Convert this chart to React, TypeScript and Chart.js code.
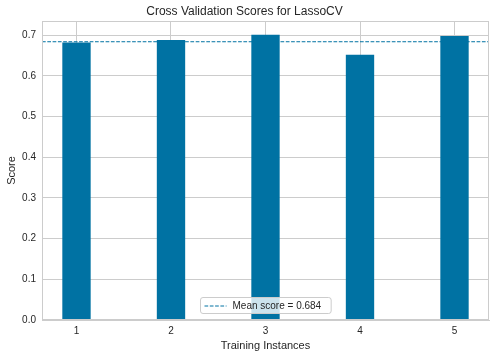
import React, { useEffect, useRef } from "react";
import { Chart, registerables } from "chart.js";

Chart.register(...registerables);

const TITLE = "Cross Validation Scores for LassoCV";
const X_LABEL = "Training Instances";
const Y_LABEL = "Score";
const FOLDS = [1, 2, 3, 4, 5];
const SCORES = [0.682, 0.688, 0.701, 0.652, 0.698];
const MEAN_SCORE = 0.684;
const LEGEND_LABEL = "Mean score = 0.684";
const X_TICKS = [1, 2, 3, 4, 5];
const Y_TICKS = [0, 0.1, 0.2, 0.3, 0.4, 0.5, 0.6, 0.7];
const X_MIN = 0.635;
const X_MAX = 5.365;
const Y_MIN = 0;
const Y_MAX = 0.735;

const BAR_COLOR = "#0072A3";
const GRID = "#cccccc";
const TEXT = "#262626";
const FONT = "'Liberation Sans', Arial, sans-serif";

const framePlugin = {
  id: "frame",
  afterDatasetsDraw(chart: any) {
    const { ctx, chartArea } = chart;
    ctx.save();
    ctx.strokeStyle = GRID;
    ctx.lineWidth = 1;
    ctx.strokeRect(
      Math.round(chartArea.left) + 0.5,
      Math.round(chartArea.top) + 0.5,
      Math.round(chartArea.right - chartArea.left) - 1,
      Math.round(chartArea.bottom - chartArea.top) - 1
    );
    ctx.restore();
  },
  afterDraw(chart: any) {
    const { ctx, chartArea } = chart;
    ctx.save();
    ctx.font = `10px ${FONT}`;
    const textW = ctx.measureText(LEGEND_LABEL).width;
    const boxW = 8 + 22 + 7 + textW + 5;
    const boxH = 16;
    const cx = (chartArea.left + chartArea.right) / 2;
    const x = Math.round(cx - boxW / 2) + 0.5;
    const y = Math.round(chartArea.bottom - 7 - boxH) + 0.5;
    const r = 2.5;
    ctx.beginPath();
    ctx.moveTo(x + r, y);
    ctx.lineTo(x + boxW - r, y);
    ctx.quadraticCurveTo(x + boxW, y, x + boxW, y + r);
    ctx.lineTo(x + boxW, y + boxH - r);
    ctx.quadraticCurveTo(x + boxW, y + boxH, x + boxW - r, y + boxH);
    ctx.lineTo(x + r, y + boxH);
    ctx.quadraticCurveTo(x, y + boxH, x, y + boxH - r);
    ctx.lineTo(x, y + r);
    ctx.quadraticCurveTo(x, y, x + r, y);
    ctx.closePath();
    ctx.fillStyle = "rgba(255,255,255,0.8)";
    ctx.fill();
    ctx.strokeStyle = GRID;
    ctx.lineWidth = 1;
    ctx.stroke();
    const ly = Math.round(y + boxH / 2);
    ctx.beginPath();
    ctx.setLineDash([3.7, 1.6]);
    ctx.strokeStyle = BAR_COLOR;
    ctx.moveTo(x + 4, ly);
    ctx.lineTo(x + 26, ly);
    ctx.stroke();
    ctx.setLineDash([]);
    ctx.fillStyle = TEXT;
    ctx.textBaseline = "middle";
    ctx.textAlign = "left";
    ctx.fillText(LEGEND_LABEL, x + 32, ly + 0.5);
    ctx.restore();
  },
};

export default function App() {
  const ref = useRef<HTMLCanvasElement>(null);
  useEffect(() => {
    document.body.style.margin = "0";
    const canvas = ref.current;
    if (!canvas) return;
    const chart = new Chart(canvas, {
      type: "bar",
      data: {
        datasets: [
          {
            type: "bar",
            label: "Scores",
            data: FOLDS.map((f, i) => ({ x: f, y: SCORES[i] })),
            backgroundColor: BAR_COLOR,
            borderWidth: 0,
            barPercentage: 0.3,
            categoryPercentage: 1,
            order: 1,
          } as any,
          {
            type: "line",
            label: LEGEND_LABEL,
            data: [
              { x: X_MIN, y: MEAN_SCORE },
              { x: X_MAX, y: MEAN_SCORE },
            ],
            borderColor: BAR_COLOR,
            borderWidth: 1,
            borderDash: [3.7, 1.6],
            pointRadius: 0,
            fill: false,
            order: 2,
          } as any,
        ],
      },
      options: {
        responsive: false,
        animation: false,
        devicePixelRatio: 1,
        layout: { padding: { left: 0, right: 6, top: 0, bottom: 0 } },
        plugins: {
          legend: { display: false },
          tooltip: { enabled: false },
          title: {
            display: true,
            text: TITLE,
            color: TEXT,
            font: { family: FONT, size: 12, weight: "normal" },
            padding: { top: 4, bottom: 2.6 },
          },
        },
        scales: {
          x: {
            type: "linear",
            min: X_MIN,
            max: X_MAX,
            offset: false,
            afterBuildTicks: (s: any) => {
              s.ticks = X_TICKS.map((v) => ({ value: v }));
            },
            afterFit: (s: any) => {
              s.height = 37;
            },
            grid: { color: GRID, drawTicks: false, offset: false },
            border: { color: GRID },
            ticks: {
              color: TEXT,
              font: { family: FONT, size: 10 },
              padding: 5,
              callback: (v: any) => String(v),
            },
            title: {
              display: true,
              text: X_LABEL,
              color: TEXT,
              font: { family: FONT, size: 11 },
              padding: { top: 0, bottom: 4 },
            },
          },
          y: {
            type: "linear",
            min: Y_MIN,
            max: Y_MAX,
            afterBuildTicks: (s: any) => {
              s.ticks = Y_TICKS.map((v) => ({ value: v }));
            },
            afterFit: (s: any) => {
              s.width = 42;
            },
            grid: { color: GRID, drawTicks: false },
            border: { color: GRID },
            ticks: {
              color: TEXT,
              font: { family: FONT, size: 10 },
              padding: 6,
              callback: (v: any) => Number(v).toFixed(1),
            },
            title: {
              display: true,
              text: Y_LABEL,
              color: TEXT,
              font: { family: FONT, size: 11 },
              padding: { top: 5, bottom: 0 },
            },
          },
        },
      } as any,
      plugins: [framePlugin],
    });
    return () => chart.destroy();
  }, []);
  return (
    <div style={{ width: 495, height: 357, background: "#fff" }}>
      <canvas ref={ref} width={495} height={357} style={{ width: 495, height: 357, display: "block" }} />
    </div>
  );
}
